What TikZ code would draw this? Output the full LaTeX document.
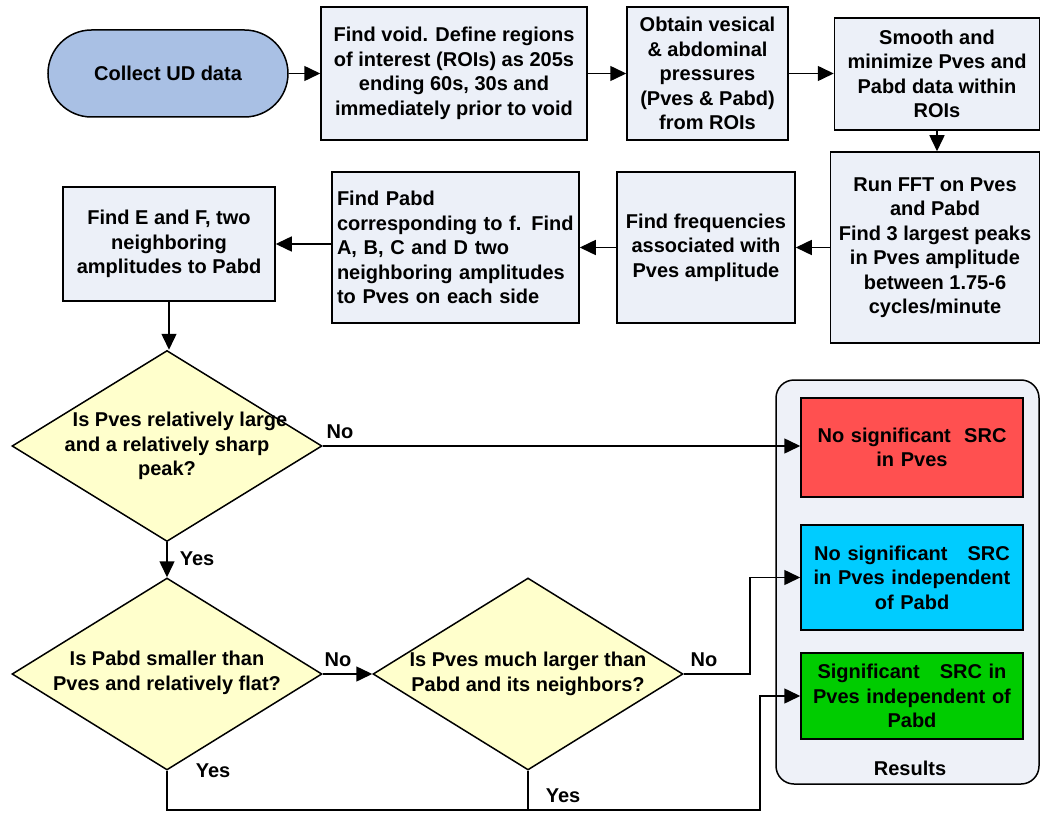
\documentclass[tikz,border=0pt]{standalone}
\usepackage{fontspec}
\setmainfont{Liberation Sans}
\usetikzlibrary{shapes.geometric,shapes.misc,arrows.meta,calc}
\definecolor{boxfill}{RGB}{236,240,248}
\definecolor{termfill}{RGB}{169,192,228}
\definecolor{diafill}{RGB}{255,255,204}
\definecolor{resfill}{RGB}{238,241,248}
\definecolor{redfill}{RGB}{255,80,80}
\definecolor{bluefill}{RGB}{0,204,255}
\definecolor{greenfill}{RGB}{0,204,0}
\begin{document}
\begin{tikzpicture}[x=1pt,y=-1pt,
  font=\fontsize{20}{24.5}\selectfont\bfseries,
  box/.style={draw=black, line width=1.5pt, fill=boxfill, align=center, inner sep=0pt},
  term/.style={draw=black, line width=1.5pt, fill=termfill, rounded rectangle, inner sep=0pt},
  dia/.style={draw=black, line width=1.5pt, fill=diafill, diamond, inner sep=0pt},
  res/.style={draw=black, line width=1.5pt, align=center, inner sep=0pt, minimum width=222, text width=222},
  conn/.style={line width=1.5pt},
  arr/.style={line width=1.5pt, -{Triangle[length=16pt,width=15pt]}},
  lbl/.style={inner sep=0pt}
]
\useasboundingbox (0,0) rectangle (1041,813);

% results container
\node[draw=black, line width=1.5pt, fill=resfill, rounded corners=18pt,
      minimum width=263, minimum height=404, inner sep=0pt] (cont) at (907.5,582) {};
\node[lbl] (restitle) at (910,768) {Results};

% top row
\node[term, minimum width=240, minimum height=87] (start) at (168,73.5) {Collect UD data};
\node[box, minimum width=266, minimum height=133] (b1) at (454,73.5)
  {Find void. Define regions\\of interest (ROIs) as 205s\\ending 60s, 30s and\\immediately prior to void};
\node[box, minimum width=161, minimum height=133] (b2) at (707.5,73.5)
  {Obtain vesical\\\& abdominal\\pressures\\(Pves \& Pabd)\\from ROIs};
\node[box, minimum width=205, minimum height=112] (b3) at (937,74)
  {Smooth and\\minimize Pves and\\Pabd data within\\ROIs};

% second row
\node[box, minimum width=209, minimum height=191] (b4) at (935,247.5)
  {Run FFT on Pves\\and Pabd\\Find 3 largest peaks\\in Pves amplitude\\between 1.75-6\\cycles/minute};
\node[box, minimum width=178, minimum height=151] (b5) at (706,247.5)
  {Find frequencies\\associated with\\Pves amplitude};
\node[box, minimum width=247, minimum height=151, align=left, text width=237] (b6) at (455.5,247.5)
  {Find Pabd\\corresponding to f. Find\\A, B, C and D two\\neighboring amplitudes\\to Pves on each side};
\node[box, minimum width=212, minimum height=114] (b7) at (169,244)
  {Find E and F, two\\neighboring\\amplitudes to Pabd};

% decisions
\node[dia, minimum width=310, minimum height=191] (d1) at (167,446) {};
\node[lbl, align=center] (t1) at (167,446)
  {\hspace*{26pt}Is Pves relatively large\\and a relatively sharp\\peak?};
\node[dia, minimum width=310, minimum height=192] (d2) at (167,674) {};
\node[lbl, align=center] (t2) at (167,673)
  {Is Pabd smaller than\\Pves and relatively flat?};
\node[dia, minimum width=310, minimum height=192] (d3) at (528,674) {};
\node[lbl, align=center] (t3) at (528,674)
  {Is Pves much larger than\\Pabd and its neighbors?};

% results boxes
\node[res, fill=redfill, minimum height=99] (r1) at (912,447.5)
  {No significant\ \ SRC\\in Pves};
\node[res, fill=bluefill, minimum height=105] (r2) at (912,577.5)
  {No significant\ \ \ SRC\\in Pves independent\\of Pabd};
\node[res, fill=greenfill, minimum height=86] (r3) at (912,696)
  {Significant\ \ \ SRC in\\Pves independent of\\Pabd};

% connectors top
\draw[arr] (start.east) -- (b1.west);
\draw[arr] (b1.east) -- (b2.west);
\draw[arr] (b2.east) -- (b2.east -| b3.west);
\draw[arr] (b3.south) -- (b3.south |- b4.north);
\draw[arr] (b4.west) -- (b4.west -| b5.east);
\draw[arr] (b5.west) -- (b5.west -| b6.east);
\draw[arr] (b6.west |- b7.east) -- (b7.east);
\draw[arr] (b7.south) -- (b7.south |- d1.north);

% decisions connectors
\draw[arr] (d1.east) -- (d1.east -| r1.west);
\node[lbl] (no1) at (340,432) {No};
\draw[arr] (d1.south) -- (d2.north);
\node[lbl] (yes1) at (197,559) {Yes};
\draw[arr] (d2.east) -- (d3.west);
\node[lbl] (no2) at (338,660) {No};
\draw[arr] (d3.east) -- ++(66,0) |- (r2.west);
\node[lbl] (no3) at (704,660) {No};
\coordinate (bot) at (760,810);
\draw[arr] (d2.south) |- (bot) |- (r3.west);
\node[lbl] (yes2) at (213,771) {Yes};
\draw[conn] (d3.south) -- (d3.south |- bot);
\node[lbl] (yes3) at (563,796) {Yes};
\end{tikzpicture}
\end{document}
